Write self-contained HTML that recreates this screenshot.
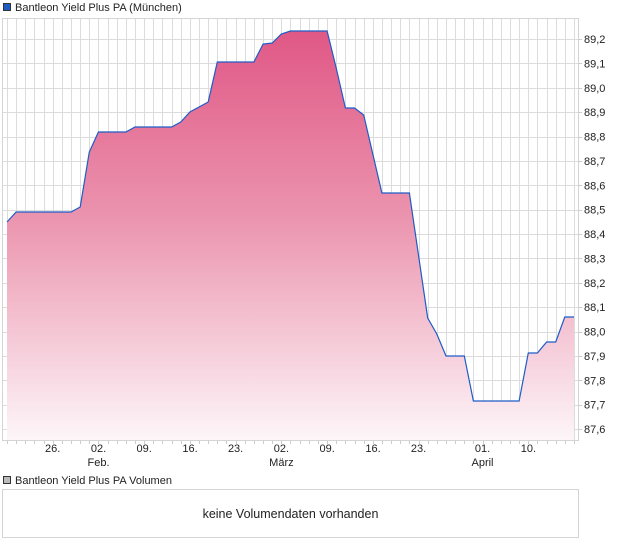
<!DOCTYPE html>
<html><head><meta charset="utf-8"><style>
html,body{margin:0;padding:0;background:#fff;}
svg{display:block;font-family:"Liberation Sans",sans-serif;}
</style></head><body>
<svg width="620" height="546" xmlns="http://www.w3.org/2000/svg">
<defs>
<linearGradient id="g" x1="0" y1="31" x2="0" y2="441" gradientUnits="userSpaceOnUse">
<stop offset="0" stop-color="#e05886"/>
<stop offset="0.45" stop-color="#eb93ae"/>
<stop offset="1" stop-color="#fdf6f9"/>
</linearGradient>
</defs>
<rect x="3.5" y="3.5" width="7" height="7" fill="#1f5cc0" stroke="#333" stroke-width="1"/>
<text x="15" y="11" font-size="11" fill="#222">Bantleon Yield Plus PA (München)</text>
<g id="grid" stroke="#dcdcdc" stroke-width="1"></g>
<path id="area" fill="url(#g)"/>
<path id="line" fill="none" stroke="#1f5cc8" stroke-width="1.2"/>
<rect x="2.5" y="18.5" width="576" height="422" fill="none" stroke="#d4d4d4"/>
<g id="ticks" stroke="#ccc"></g>
<g id="ylab" font-size="11" fill="#222"></g>
<g font-size="11" fill="#222" text-anchor="middle">
<text x="52.7" y="452">26.</text>
<text x="98.5" y="452">02.</text><text x="98.5" y="466">Feb.</text>
<text x="144.2" y="452">09.</text>
<text x="190" y="452">16.</text>
<text x="235.6" y="452">23.</text>
<text x="281.4" y="452">02.</text><text x="281.4" y="466">März</text>
<text x="327.2" y="452">09.</text>
<text x="373" y="452">16.</text>
<text x="418.5" y="452">23.</text>
<text x="482.5" y="452">01.</text><text x="482.5" y="466">April</text>
<text x="528.4" y="452">10.</text>
</g>
<rect x="3.5" y="476.5" width="7" height="7" fill="#bbb" stroke="#333" stroke-width="1"/>
<text x="15" y="484" font-size="11" fill="#222">Bantleon Yield Plus PA Volumen</text>
<rect x="2.5" y="489.5" width="576" height="48" fill="#fff" stroke="#d4d4d4"/>
<text x="290.5" y="518" font-size="12.5" fill="#222" text-anchor="middle">keine Volumendaten vorhanden</text>
</svg>
<script>
var ns="http://www.w3.org/2000/svg";
function X(k){return 7+9.145*k;}
var grid=document.getElementById('grid'),ticks=document.getElementById('ticks'),yl=document.getElementById('ylab');
function ln(p,x1,y1,x2,y2){var l=document.createElementNS(ns,'line');l.setAttribute('x1',x1);l.setAttribute('y1',y1);l.setAttribute('x2',x2);l.setAttribute('y2',y2);p.appendChild(l);}
for(var k=0;k<=62;k++){var x=Math.round(X(k))+0.5;ln(grid,x,18,x,441);ln(ticks,x,441,x,444);}
for(var i=0;i<=16;i++){var v=87.6+i*0.1;var y=429-i*24.375;var yy=Math.round(y)+0.5;ln(grid,3,yy,578,yy);ln(ticks,578,yy,582,yy);
var t=document.createElementNS(ns,'text');t.setAttribute('x',584);t.setAttribute('y',y+4);t.textContent=v.toFixed(1).replace('.',',');yl.appendChild(t);}
var d={0:222,1:212,7:212,8:207,9:152,10:132,13:132,14:127,18:127,19:122,20:112,22:102,23:62,27:62,28:44,29:43,30:34,31:31,35:31,36:68,37:108,38:108,39:115,41:193,44:193,46:318,47:334,48:356,50:356,51:401,56:401,57:353,58:353,59:342,60:342,61:317,62:317};
var pts=[];for(var k in d)pts.push([X(+k),d[k]]);
pts.sort(function(a,b){return a[0]-b[0];});
var s=pts.map(function(p,i){return (i?'L':'M')+p[0].toFixed(1)+','+p[1];}).join('');
document.getElementById('line').setAttribute('d',s);
document.getElementById('area').setAttribute('d',s+'L'+X(62).toFixed(1)+',441L7,441Z');
</script>
</body></html>
